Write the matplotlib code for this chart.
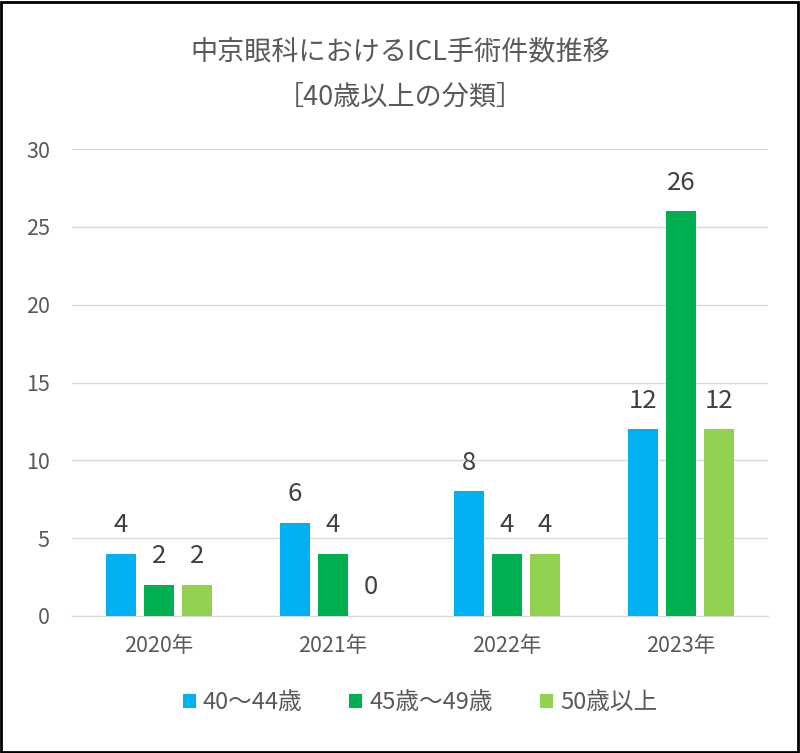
import numpy as np
import matplotlib.pyplot as plt
from matplotlib.patches import Rectangle

plt.rcParams['font.family'] = ['Noto Sans CJK JP', 'DejaVu Sans']

years = ['2020年', '2021年', '2022年', '2023年']
series_names = ['40～44歳', '45歳～49歳', '50歳以上']
age_40_44 = [4, 6, 8, 12]
age_45_49 = [2, 4, 4, 26]
age_50_up = [2, 0, 4, 12]
colors = ['#00B0F0', '#00B050', '#92D050']

gray = '#595959'

fig = plt.figure(figsize=(8, 7.53), dpi=100)
ax = fig.add_axes([0.09, 0.182, 0.87, 0.62])

x = np.arange(len(years))
w = 0.172
offsets = [-0.218, 0, 0.218]
for vals, off, c, name in zip([age_40_44, age_45_49, age_50_up], offsets, colors, series_names):
    bars = ax.bar(x + off, vals, width=w, color=c, label=name, zorder=3)
    for b, v in zip(bars, vals):
        ax.text(b.get_x() + b.get_width() / 2, v + 1.0, str(v), ha='center', va='bottom',
                fontsize=18.5, color='#404040')

ax.set_xlim(-0.5, 3.5)
ax.set_ylim(0, 30)
ax.set_yticks(range(0, 31, 5))
ax.grid(axis='y', color='#D9D9D9', linewidth=1, zorder=0)
for s in ['top', 'right', 'left']:
    ax.spines[s].set_visible(False)
ax.spines['bottom'].set_color('#D9D9D9')
ax.tick_params(axis='both', length=0, labelsize=15.5, labelcolor=gray)
ax.tick_params(axis='y', pad=16)
ax.tick_params(axis='x', pad=14)
ax.set_xticks(x)
ax.set_xticklabels(years)

fig.text(0.5, 0.931, '中京眼科におけるICL手術件数推移', ha='center', va='center', fontsize=19.5, color=gray)
fig.text(0.5, 0.871, '［40歳以上の分類］', ha='center', va='center', fontsize=19.5, color=gray)

ax.legend(loc='center', bbox_to_anchor=(0.5, -0.186), ncol=3, frameon=False,
          fontsize=17, labelcolor=gray, handlelength=0.55, handleheight=0.55,
          handletextpad=0.3, columnspacing=2.0)

fig.patches.append(Rectangle((0.001, 0.001), 0.997, 0.997, transform=fig.transFigure,
                             fill=False, edgecolor='black', linewidth=2))

fig.savefig('out.png', dpi=100)
